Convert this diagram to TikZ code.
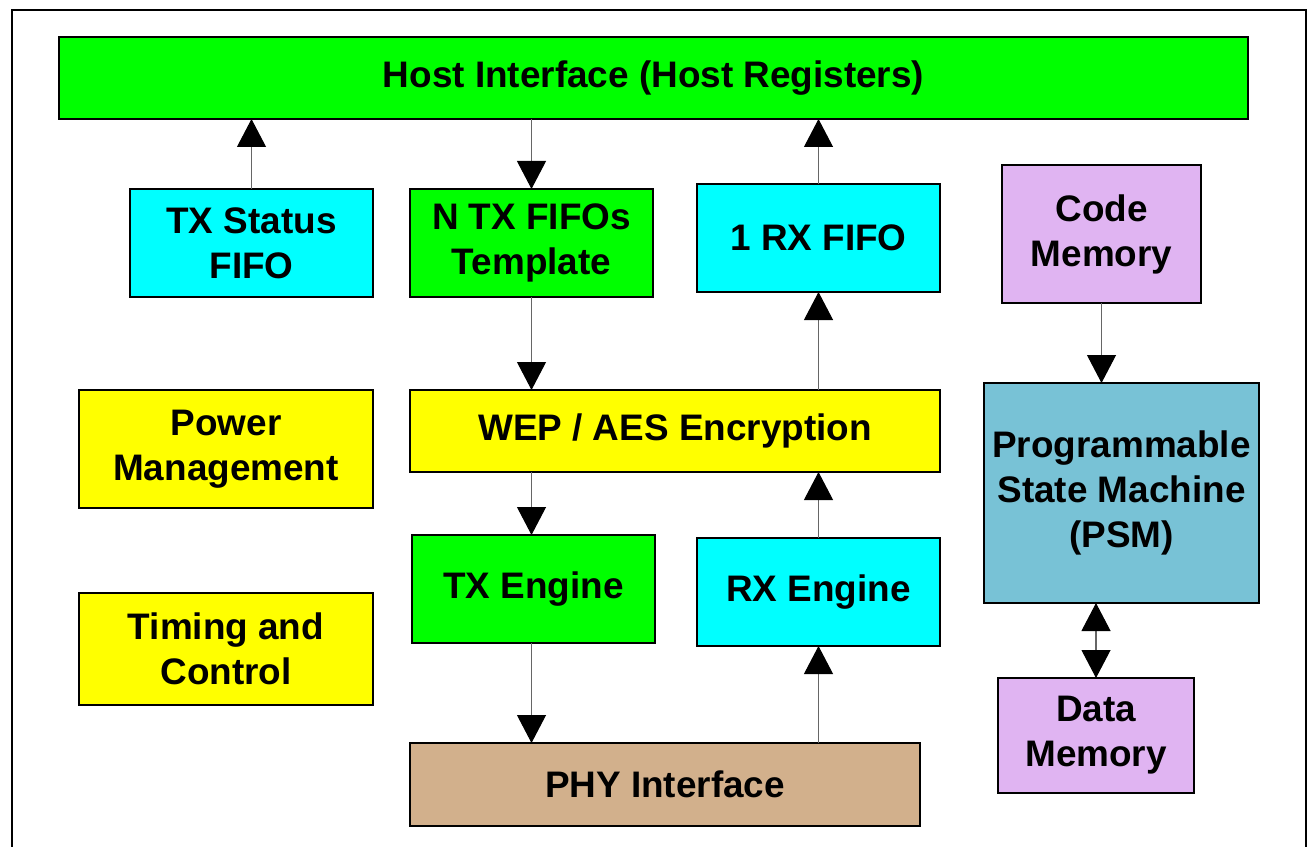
\documentclass[tikz,border=0pt]{standalone}
\usepackage{fontspec}
\setmainfont{Liberation Sans}
\usepackage{tikz}
\usetikzlibrary{arrows.meta, positioning, calc}
\definecolor{hostgreen}{HTML}{00FF00}
\definecolor{fifocyan}{HTML}{00FFFF}
\definecolor{blkyellow}{HTML}{FFFF00}
\definecolor{memlilac}{HTML}{E0B4F2}
\definecolor{psmblue}{HTML}{78C2D6}
\definecolor{phytan}{HTML}{D2B08C}
\tikzset{
  blk/.style={draw=black, line width=1.2pt, inner sep=0pt, outer sep=0pt, align=center,
    font=\fontsize{21}{25.6}\selectfont\bfseries},
  flow/.style={draw=black!60, line width=0.6pt, -{Triangle[length=0.56cm,width=0.58cm,color=black]}},
  flowboth/.style={draw=black!60, line width=0.6pt, {Triangle[length=0.56cm,width=0.58cm,color=black]}-{Triangle[length=0.56cm,width=0.58cm,color=black]}}
}
\begin{document}
\begin{tikzpicture}

            \useasboundingbox (0,0) rectangle (26.16,-16.92);
            % Khung ngoai
            \draw[line width=1.2pt] (0.24,-18) -- (0.24,-0.2) -- (26.12,-0.2) -- (26.12,-18);

            % Cac khoi
            \node[blk, fill=hostgreen, minimum width=23.78cm, minimum height=1.64cm] (host) at (13.07,-1.56) {Host Interface (Host Registers)};
            \node[blk, fill=fifocyan, minimum width=4.86cm, minimum height=2.16cm] (txs) at (5.03,-4.86) {TX Status\\FIFO};
            \node[blk, fill=hostgreen, minimum width=4.86cm, minimum height=2.16cm] (ntx) at (10.63,-4.86) {N TX FIFOs\\Template};
            \node[blk, fill=fifocyan, minimum width=4.86cm, minimum height=2.16cm] (rxf) at (16.37,-4.76) {1 RX FIFO};
            \node[blk, fill=memlilac, minimum width=3.98cm, minimum height=2.76cm] (code) at (22.03,-4.68) {Code\\Memory};
            \node[blk, fill=blkyellow, minimum width=5.88cm, minimum height=2.36cm] (pwr) at (4.52,-8.98) {Power\\Management};
            \node[blk, fill=blkyellow, minimum width=10.6cm, minimum height=1.64cm] (wep) at (13.5,-8.62) {WEP / AES Encryption};
            \node[blk, fill=psmblue, minimum width=5.5cm, minimum height=4.4cm] (psm) at (22.43,-9.86) {Programmable\\State Machine\\(PSM)};
            \node[blk, fill=hostgreen, minimum width=4.86cm, minimum height=2.16cm] (txe) at (10.67,-11.78) {TX Engine};
            \node[blk, fill=fifocyan, minimum width=4.86cm, minimum height=2.16cm] (rxe) at (16.37,-11.84) {RX Engine};
            \node[blk, fill=blkyellow, minimum width=5.88cm, minimum height=2.24cm] (tim) at (4.52,-12.98) {Timing and\\Control};
            \node[blk, fill=phytan, minimum width=10.2cm, minimum height=1.66cm] (phy) at (13.3,-15.69) {PHY Interface};
            \node[blk, fill=memlilac, minimum width=3.92cm, minimum height=2.3cm] (dat) at (21.92,-14.71) {Data\\Memory};

            % Duong truyen TX
            \draw[flow] (txs.north) -- (txs.north |- host.south);
            \draw[flow] (host.south -| ntx.north) -- (ntx.north);
            \draw[flow] (ntx.south) -- (ntx.south |- wep.north);
            \draw[flow] (wep.south -| ntx.south) -- (txe.north -| ntx.south);
            \draw[flow] (txe.south -| ntx.south) -- (phy.north -| ntx.south);

            % Duong truyen RX
            \draw[flow] (phy.north -| rxe.south) -- (rxe.south);
            \draw[flow] (rxe.north) -- (rxe.north |- wep.south);
            \draw[flow] (wep.north -| rxf.south) -- (rxf.south);
            \draw[flow] (rxf.north) -- (rxf.north |- host.south);

            % Bo nho cua PSM
            \draw[flow] (code.south) -- (code.south |- psm.north);
            \draw[flowboth] (psm.south -| dat.north) -- (dat.north);

\end{tikzpicture}
\end{document}
